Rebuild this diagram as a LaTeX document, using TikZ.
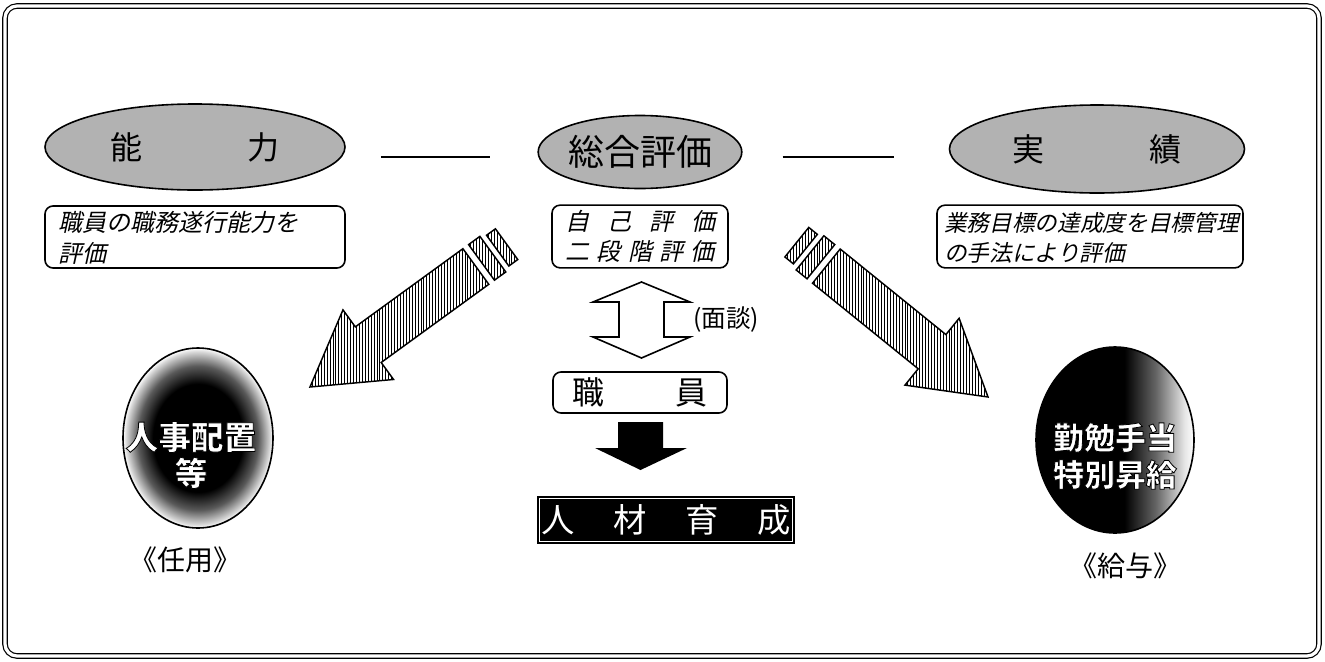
\documentclass[tikz,border=0pt]{standalone}
\usepackage{fontspec}
\setmainfont{Noto Sans CJK JP}
\newfontfamily\jp{Noto Sans CJK JP}
\newfontfamily\jpit[FakeSlant=0.22]{Noto Sans CJK JP}
\usetikzlibrary{shapes.geometric,patterns,calc}
\pgfdeclareradialshading{blobL}{\pgfpoint{0bp}{0bp}}{color(0bp)=(black); color(15bp)=(black); color(20bp)=(black!65); color(24bp)=(black!15); color(25bp)=(white); color(50bp)=(white)}
\pgfdeclarehorizontalshading{fadeR}{100bp}{color(0bp)=(black); color(25bp)=(black); color(53bp)=(black); color(63bp)=(black!60); color(72bp)=(black!10); color(75bp)=(white); color(100bp)=(white)}
\pgfdeclarepatternformonly{vdense}{\pgfqpoint{-1pt}{-1pt}}{\pgfqpoint{3pt}{3pt}}{\pgfqpoint{2.2pt}{2.2pt}}{\pgfsetlinewidth{0.6pt}\pgfpathmoveto{\pgfqpoint{1.1pt}{-0.5pt}}\pgfpathlineto{\pgfqpoint{1.1pt}{2.7pt}}\pgfusepath{stroke}}
\newcommand\outl[1]{{\color{white}\special{pdf:literal direct 0 G 2 Tr 0.6 w}#1\special{pdf:literal direct 0 Tr}}}
\begin{document}
\begin{tikzpicture}[x=0.75pt,y=-0.75pt,
  oval/.style={ellipse, draw, line width=1.2pt, fill=black!30, inner sep=0pt},
  rbox/.style={draw, line width=1.2pt, rounded corners=6pt, inner sep=0pt},
  hatch/.style={draw, line width=1.1pt, pattern=vdense},
  conn/.style={line width=1.8pt},
  desc/.style={font=\jpit\fontsize{18}{23}\selectfont, align=left, inner sep=0pt},
  big/.style={font=\jp\fontsize{24}{24}\selectfont},
  circtxt/.style={font=\jp\bfseries\fontsize{24.5}{27}\selectfont, align=center, inner sep=0pt},
  caplbl/.style={font=\jp\fontsize{21}{21}\selectfont},
]
\useasboundingbox (0,0) rectangle (1325,661);
% outer frame
\draw[line width=0.9pt, double, double distance=2.4pt, rounded corners=9pt] (5,6) rectangle (1319,656);

% top ellipses
\node[oval, minimum width=225pt, minimum height=64.5pt, big] (nor) at (195,147) {能\hspace{79pt}力};
\node[oval, minimum width=139.5pt, minimum height=54.75pt, font=\jp\fontsize{27}{27}\selectfont] (sogo) at (640,152) {総合評価};
\node[oval, minimum width=221.25pt, minimum height=66pt, big] (jis) at (1097,149) {実\hspace{79pt}績};

% connecting lines
\draw[conn] ([shift={(35,10)}]nor.east) -- ([shift={(-47,5)}]sogo.west);
\draw[conn] ([shift={(40,5)}]sogo.east) -- ([shift={(-55,8)}]jis.west);

% description boxes
\node[rbox, minimum width=225pt, minimum height=46.5pt] (b1) at (195,237) {};
\node[desc, anchor=west] (b1t) at (58,238) {職員の職務遂行能力を\\評価};
\node[rbox, minimum width=132pt, minimum height=47pt] (b2) at (640,236.5) {};
\node[desc, align=center] (b2t) at (b2.center) {自\hspace{13.5pt}己\hspace{13.5pt}評\hspace{13.5pt}価\\二\hspace{5.5pt}段\hspace{5.5pt}階\hspace{5.5pt}評\hspace{5.5pt}価};
\node[rbox, minimum width=229.5pt, minimum height=47pt] (b3) at (1090,236.5) {};
\node[desc, anchor=west, font=\jpit\fontsize{17}{23}\selectfont] (b3t) at (944,238) {業務目標の達成度を目標管理\\の手法により評価};

% hatched arrows
\begin{scope}[shift={(310,387)}, rotate=216]
  \draw[hatch] (0,0) -- (-72,43) -- (-72,22) -- (-205,22) -- (-205,-22) -- (-72,-22) -- (-72,-43) -- cycle;
  \draw[hatch] (-212,22) rectangle (-226,-22);
  \draw[hatch] (-232,19) rectangle (-243,-19);
\end{scope}
\begin{scope}[shift={(988,397)}, rotate=-39]
  \draw[hatch] (0,0) -- (-72,43) -- (-72,22) -- (-208,22) -- (-208,-22) -- (-72,-22) -- (-72,-43) -- cycle;
  \draw[hatch] (-215,22) rectangle (-229,-22);
  \draw[hatch] (-235,19) rectangle (-246,-19);
\end{scope}

% circles
\node[ellipse, draw, line width=1.2pt, shading=blobL, minimum width=112.5pt, minimum height=135pt] (jinji) at (198,438) {};
\node[circtxt] (jt) at ([shift={(-7,17)}]jinji.center) {\outl{人事配置}\\\outl{等}};

\node[ellipse, draw, line width=1.2pt, shading=fadeR, minimum width=118.5pt, minimum height=139.5pt] (kyu) at (1115,440) {};
\node[circtxt, font=\jp\bfseries\fontsize{23.2}{27.7}\selectfont] (kt) at ([shift={(0,16)}]kyu.center) {\outl{勤勉手当}\\\outl{特別昇給}};

\node[caplbl] (ninyo) at (185,560) {《任用》};
\node[caplbl] (kyuyo) at (1125,566) {《給与》};

% double arrow (interview)
\coordinate (da) at (641.5,320);
\draw[line width=1.2pt, fill=white] ([shift={(0,-38)}]da) -- ++(48.5,20) -- ++(-26,0) -- ++(0,35) -- ++(26,0) -- ([shift={(0,38)}]da) -- ++(-48.5,-21) -- ++(26,0) -- ++(0,-35) -- ++(-26,0) -- cycle;
\node[font=\jp\fontsize{18.5}{18.5}\selectfont] (men) at (726,320) {(面談)};

% staff box
\node[rbox, minimum width=130.5pt, minimum height=30.75pt, font=\jp\fontsize{24}{24}\selectfont] (shok) at (640,392.5) {職\hspace{53pt}員};

% black down arrow
\coordinate (ba) at (640.5,422);
\fill[black] ([shift={(-22.5,0)}]ba) -- ++(45,0) -- ++(0,26) -- ++(24,0) -- ([shift={(0,48)}]ba) -- ++(-45.5,-22) -- ++(23,0) -- cycle;

% jinzai box
\node[fill=black, minimum width=193.5pt, minimum height=36pt, inner sep=0pt] (jin) at (666,520) {};
\draw[white, line width=0.7pt] ([shift={(3,3)}]jin.north west) rectangle ([shift={(-3,-3)}]jin.south east);
\node[white, font=\jp\fontsize{25}{25}\selectfont] (jint) at (jin.center) {人\hspace{29pt}材\hspace{29pt}育\hspace{29pt}成};
\end{tikzpicture}
\end{document}
